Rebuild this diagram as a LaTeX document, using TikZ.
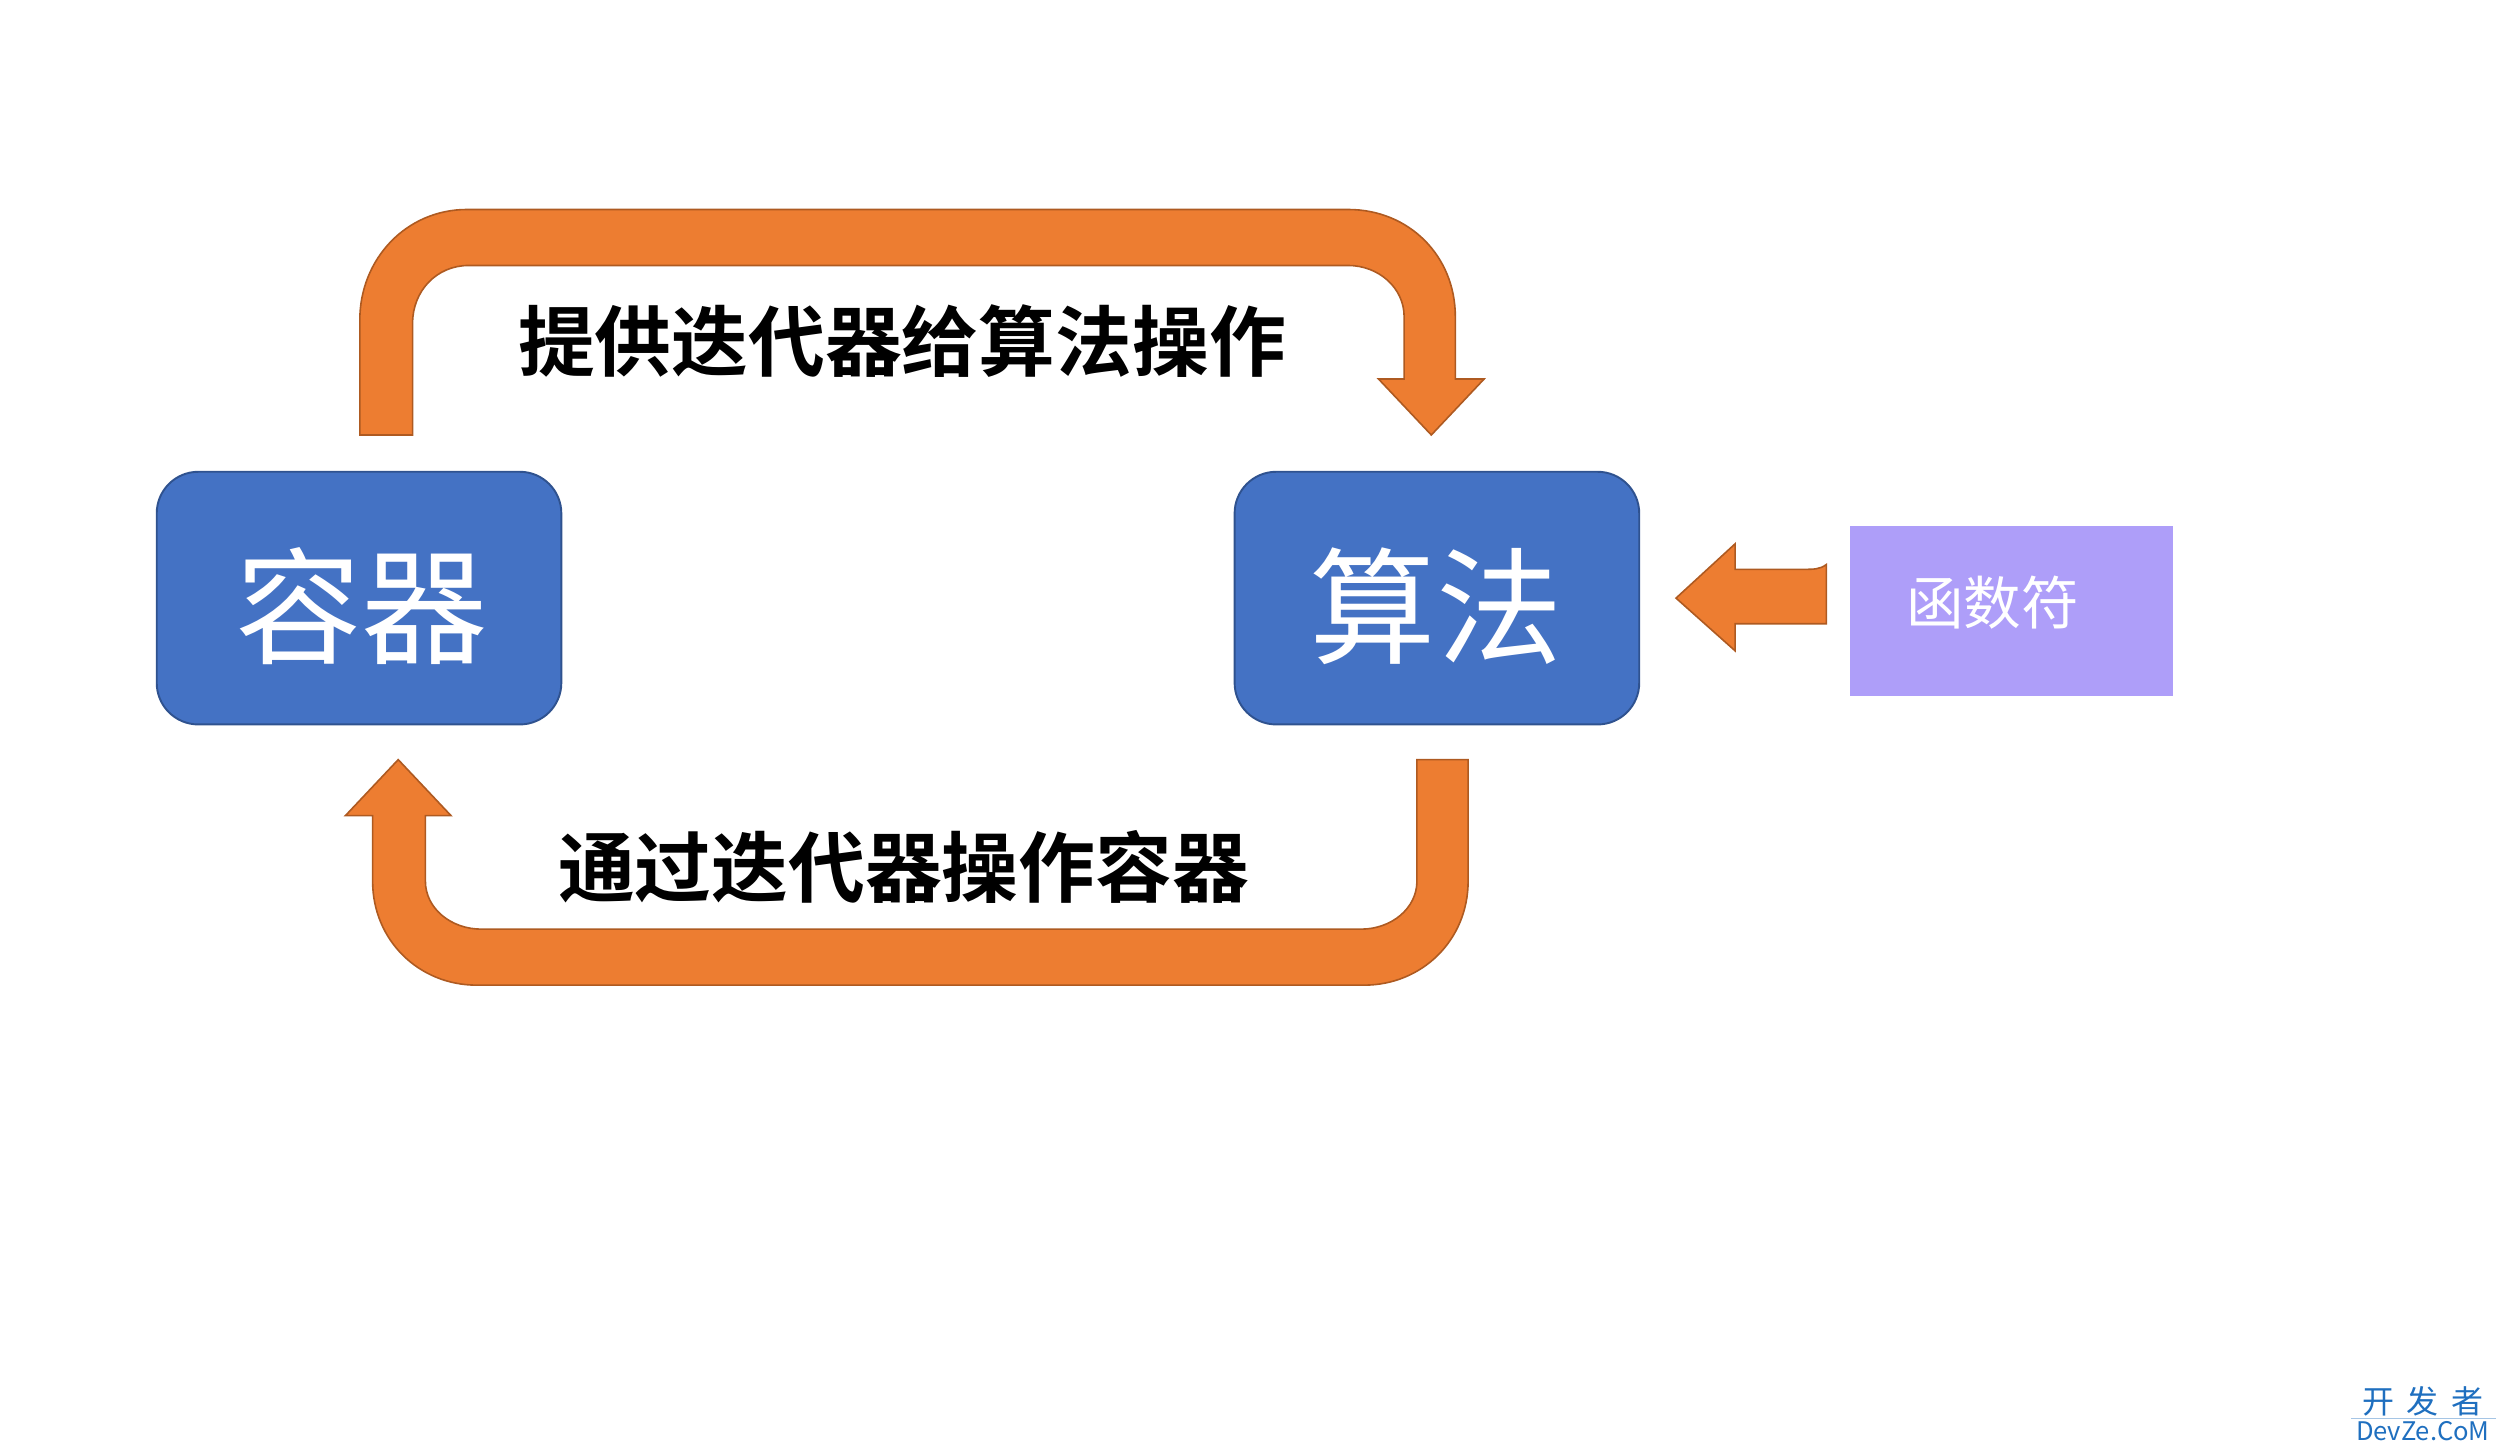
\documentclass[tikz,border=0pt]{standalone}
\usepackage{fontspec}
\newfontfamily\cjk{Noto Sans CJK SC}
\newfontfamily\cjkb{Noto Sans CJK SC Bold}
\definecolor{boxblue}{HTML}{4472C4}
\definecolor{boxblueline}{HTML}{2F528F}
\definecolor{arroworange}{HTML}{ED7D31}
\definecolor{arrowline}{HTML}{AE5A21}
\definecolor{lavender}{HTML}{AE9EF9}
\definecolor{wmblue}{HTML}{1F6FBF}
\tikzset{
  bluebox/.style={draw=boxblueline, line width=1.2pt, fill=boxblue, rounded corners=26pt},
  blockarrow/.style={draw=arrowline, line width=1pt, fill=arroworange, line join=miter},
  bigtext/.style={text=white, font=\cjk\fontsize{79}{79}\selectfont},
  labeltext/.style={text=black, font=\cjkb\fontsize{48}{48}\selectfont},
}
\begin{document}
\begin{tikzpicture}[x=1pt,y=-1pt]
\useasboundingbox (0,0) rectangle (1562,904);
% boxes
\draw[bluebox] (98,295) rectangle (351,453);
\node[bigtext] (rq) at (226,379) {容器};
\draw[bluebox] (772,295) rectangle (1025,453);
\node[bigtext] (sf) at (898,379) {算法};
\fill[lavender] (1157,329) rectangle (1359,435);
\node[text=white, font=\cjk\fontsize{36}{36}\selectfont] (hs) at (1246,377) {函数符};
% top U arrow
\draw[blockarrow] (225,272) -- (225,200)
  .. controls (225,162) and (254,131) .. (292,131)
  -- (843,131)
  .. controls (881,131) and (910,160) .. (910,198)
  -- (910,237) -- (928,237) -- (895,272) -- (862,237) -- (878,237) -- (878,198)
  .. controls (878,180) and (862,166) .. (843,166)
  -- (293,166)
  .. controls (273,166) and (258,182) .. (258,202)
  -- (258,272) -- cycle;
% bottom U arrow
\draw[blockarrow] (886,475) -- (918,475) -- (918,551)
  .. controls (918,588) and (889,616) .. (853,616)
  -- (298,616)
  .. controls (262,616) and (233,588) .. (233,551)
  -- (233,510) -- (216,510) -- (249,475) -- (282,510) -- (266,510) -- (266,551)
  .. controls (266,568) and (282,581) .. (301,581)
  -- (851,581)
  .. controls (870,581) and (886,568) .. (886,551)
  -- cycle;
% left arrow
\draw[blockarrow] (1142,353) .. controls (1138,356) and (1134,356) .. (1128,356)
  -- (1085,356) -- (1085,340) -- (1048,374) -- (1085,407) -- (1085,390) -- (1142,390) -- cycle;
% labels
\node[labeltext] (l1) at (564,213) {提供迭代器给算法操作};
\node[labeltext] (l2) at (565,542) {通过迭代器操作容器};
% watermark
\node[text=wmblue, font=\cjk\fontsize{20}{20}\selectfont] (wm1) at (1515,876) {开\hspace{8pt}发\hspace{8pt}者};
\draw[wmblue!40, line width=0.6pt] (1470,887) -- (1561,887);
\node[text=wmblue, font=\cjk\fontsize{16}{16}\selectfont] (wm2) at (1515,895) {DevZe.CoM};
\end{tikzpicture}
\end{document}
